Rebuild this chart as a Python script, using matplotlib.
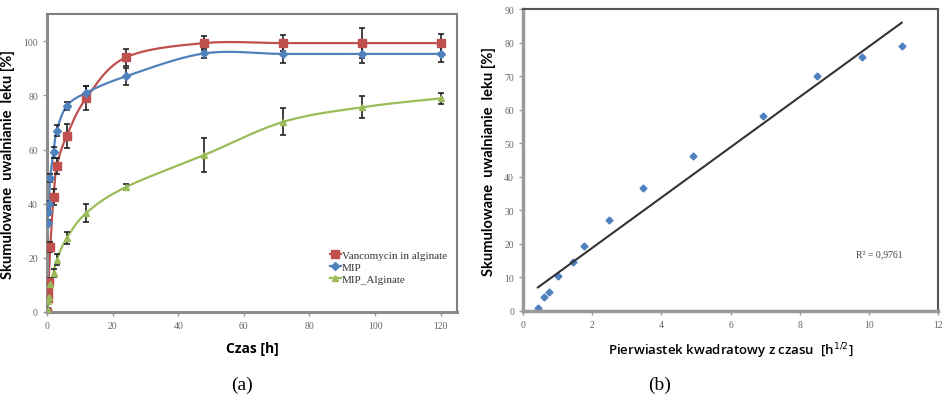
import numpy as np
import matplotlib
matplotlib.use("Agg")
from matplotlib import pyplot as plt

# czas [h]
time_h = [0, 0.17, 0.33, 0.5, 1, 2, 3, 6, 12, 24, 48, 72, 96, 120]

vanco = [0, 5, 8, 11, 24, 42.6, 54, 65, 79, 94, 99.3, 99.3, 99.3, 99.3]
vanco_err = [0, 1, 1, 1.5, 2, 3, 3, 4.5, 4.5, 3.3, 2.5, 3, 5.5, 3.5]

mip = [0, 33, 37, 40, 49.5, 59, 67, 76, 81, 87, 95.5, 95.3, 95.3, 95.3]
mip_err = [0, 1, 1, 1, 1.5, 2, 2, 1.5, 2.5, 3, 1.8, 3.5, 3.5, 3]

mip_alg = [0, 0.9, 4.2, 5.7, 10.4, 14.5, 19.3, 27.2, 36.6, 46.1, 58.0, 70.2, 75.6, 78.9]
mip_alg_err = [0, 0.5, 0.5, 0.8, 1, 1.5, 2, 2.2, 3.3, 1, 6.3, 5, 4, 2]

# panel (b): pierwiastek z czasu
sqrt_t = [0.43, 0.61, 0.75, 1.01, 1.45, 1.76, 2.49, 3.47, 4.91, 6.94, 8.5, 9.8, 10.95]
release_b = [0.9, 4.2, 5.7, 10.4, 14.5, 19.3, 27.1, 36.6, 46.1, 58.0, 70.2, 75.6, 78.9]

RED = '#C0504D'
BLUE = '#4F81BD'
GREEN = '#9BBB59'
TICK_C = '#666666'


def smooth(x, y, n=25):
    # wygladzanie jak w Excelu (Catmull-Rom)
    x = np.asarray(x, float)
    y = np.asarray(y, float)
    px = np.concatenate([[x[0]], x, [x[-1]]])
    py = np.concatenate([[y[0]], y, [y[-1]]])
    xs, ys = [], []
    s = np.linspace(0, 1, n)
    for i in range(1, len(px) - 2):
        mx0 = (px[i + 1] - px[i - 1]) / 2
        mx1 = (px[i + 2] - px[i]) / 2
        my0 = (py[i + 1] - py[i - 1]) / 2
        my1 = (py[i + 2] - py[i]) / 2
        h00 = 2 * s**3 - 3 * s**2 + 1
        h10 = s**3 - 2 * s**2 + s
        h01 = -2 * s**3 + 3 * s**2
        h11 = s**3 - s**2
        xs.append(h00 * px[i] + h10 * mx0 + h01 * px[i + 1] + h11 * mx1)
        ys.append(h00 * py[i] + h10 * my0 + h01 * py[i + 1] + h11 * my1)
    return np.concatenate(xs), np.concatenate(ys)


def style_axes(ax):
    ax.tick_params(direction='out', length=3, width=1, colors='#999999',
                   labelcolor=TICK_C, labelsize=7)
    for lab in ax.get_xticklabels() + ax.get_yticklabels():
        lab.set_fontfamily('Liberation Serif')


fig = plt.figure(figsize=(9.47, 4.02), dpi=100)

# ---------- (a) ----------
ax1 = fig.add_axes([0.0496, 0.2214, 0.433, 0.741])
series = [
    (vanco, vanco_err, RED, 's', 5.5, 'Vancomycin in alginate'),
    (mip, mip_err, BLUE, 'D', 4, 'MIP'),
    (mip_alg, mip_alg_err, GREEN, '^', 4.5, 'MIP_Alginate'),
]
for vals, err, col, mk, ms, lab in series:
    sx, sy = smooth(time_h, vals)
    ax1.plot(sx, sy, color=col, lw=1.6, zorder=2)
    ax1.errorbar(time_h, vals, yerr=err, fmt='none', ecolor='#222222',
                 elinewidth=1.2, capsize=2, capthick=1.2, zorder=3)
    ax1.plot(time_h, vals, ls='none', marker=mk, ms=ms, color=col, zorder=4)
    ax1.plot([], [], color=col, marker=mk, ms=ms, lw=1.6, label=lab)

ax1.set_xlim(0, 125)
ax1.set_ylim(0, 110)
ax1.set_xticks(range(0, 121, 20))
ax1.set_yticks(range(0, 101, 20))
style_axes(ax1)
for side in ['top', 'right']:
    ax1.spines[side].set_color('#7f7f7f')
    ax1.spines[side].set_linewidth(1.5)
for side in ['left', 'bottom']:
    ax1.spines[side].set_color('#8c8c8c')
    ax1.spines[side].set_linewidth(2.2)
leg = ax1.legend(loc='lower right', bbox_to_anchor=(1.0, 0.06), frameon=False,
                 handlelength=1.0, handletextpad=0.1, labelspacing=0.2,
                 prop={'family': 'Liberation Serif', 'size': 8})
for t in leg.get_texts():
    t.set_color('#333333')
ax1.set_xlabel('Czas [h]', fontfamily='Open Sans', fontweight='bold',
               fontsize=10, labelpad=8)
ax1.set_ylabel('Skumulowane  uwalnianie  leku [%]', fontfamily='Lato',
               fontweight='bold', fontsize=10.5, labelpad=6)

# ---------- (b) ----------
ax2 = fig.add_axes([0.5523, 0.2239, 0.4382, 0.751])
ax2.plot(sqrt_t, release_b, ls='none', marker='D', ms=3.5, color='#4F81BD')
a, b = np.polyfit(sqrt_t, release_b, 1)
fx = np.array([sqrt_t[0], sqrt_t[-1]])
ax2.plot(fx, a * fx + b, color='#333333', lw=1.5)
pred = a * np.array(sqrt_t) + b
r2 = 1 - np.sum((np.array(release_b) - pred) ** 2) / np.sum(
    (np.array(release_b) - np.mean(release_b)) ** 2)
ax2.text(10.3, 17, 'R² = 0,9761', fontfamily='Liberation Serif', fontsize=7,
         color='#444444', ha='center', va='center')
ax2.set_xlim(0, 12)
ax2.set_ylim(0, 90)
ax2.set_xticks(range(0, 13, 2))
ax2.set_yticks(range(0, 91, 10))
style_axes(ax2)
for side in ['top', 'right']:
    ax2.spines[side].set_color('#555555')
    ax2.spines[side].set_linewidth(1.5)
for side in ['left', 'bottom']:
    ax2.spines[side].set_color('#999999')
    ax2.spines[side].set_linewidth(2.5)
ax2.set_xlabel('Pierwiastek kwadratowy z czasu  [h$^{1/2}$]',
               fontfamily='Open Sans', fontweight='semibold', fontsize=9.5,
               labelpad=8)
ax2.set_ylabel('Skumulowane  uwalnianie  leku [%]', fontfamily='Lato',
               fontweight='bold', fontsize=10.5, labelpad=6)

fig.text(242 / 947, 1 - 385 / 402, '(a)', fontfamily='Liberation Serif',
         fontsize=14, ha='center', va='center')
fig.text(660 / 947, 1 - 385 / 402, '(b)', fontfamily='Liberation Serif',
         fontsize=14, ha='center', va='center')

fig.savefig('out.png', dpi=100)
